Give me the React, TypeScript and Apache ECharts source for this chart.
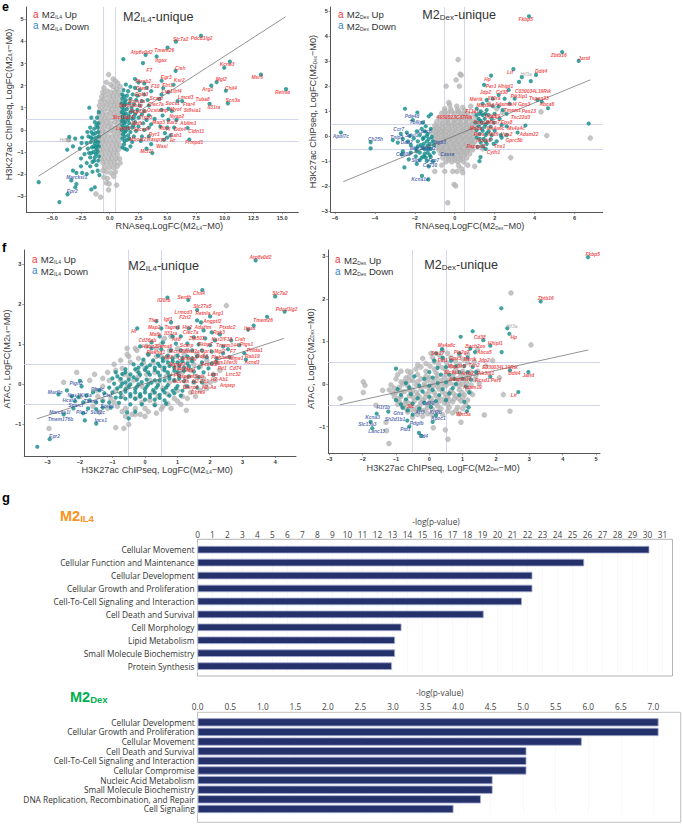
import React, { useEffect, useRef } from "react";
import * as echarts from "echarts";

type P = number[];
type L = [number, number, string];

const ticksE1X = [-5, -2.5, 0, 2.5, 5, 7.5, 10, 12.5, 15];
const ticksE1Y = [-3, -2, -1, 0, 1, 2, 3, 4, 5];
const ticksE2X = [-6, -4, -2, 0, 2, 4, 6];
const ticksE2Y = [-3, -2, -1, 0, 1, 2, 3, 4, 5];
const ticksF1X = [-3, -2, -1, 0, 1, 2, 3, 4];
const ticksF1Y = [-1, 0, 1, 2, 3];
const ticksF2X = [-3, -2, -1, 0, 1, 2, 3, 4, 5];
const ticksF2Y = [-1, 0, 1, 2, 3];

const fitE1: P[] = [[-6.2, -2.1], [15.3, 5.12]];
const fitE2: P[] = [[-5.58, -1.81], [6.78, 2.25]];
const fitF1: P[] = [[-3.32, -0.86], [4.27, 1.15]];
const fitF2: P[] = [[-2.68, -0.49], [4.77, 0.8]];

const grayE1: P[] = [
[-.1,2.5],[.3,2.3],[-.3,2.15],[.5,2.2],[.1,2.05],[.7,2.1],[-.5,1.9],[.3,1.95],[.6,1.85],[.9,1.95],
[-.6,1.7],[-.2,1.75],[.1,1.7],[.45,1.7],[.8,1.7],[-.7,1.5],[-.35,1.55],[0,1.5],[.3,1.5],[.65,1.5],[.95,1.55],
[-.8,1.3],[-.5,1.35],[-.15,1.3],[.2,1.3],[.5,1.3],[.85,1.3],[-.9,1.1],[-.55,1.1],[-.25,1.15],[.1,1.1],[.4,1.1],[.7,1.1],[1,1.1],
[-.85,.9],[-.5,.9],[-.15,.95],[.2,.9],[.55,.9],[.9,.9],[-.9,.7],[-.6,.7],[-.25,.7],[.05,.75],[.4,.7],[.75,.7],[1.05,.7],
[-.8,.5],[-.45,.5],[-.1,.5],[.25,.55],[.6,.5],[.95,.5],[-.9,.3],[-.6,.3],[-.25,.3],[.1,.3],[.45,.35],[.8,.3],
[-.85,.1],[-.5,.1],[-.15,.15],[.2,.1],[.55,.1],[.9,.1],[-.9,-.1],[-.6,-.1],[-.3,-.1],[.05,-.05],[.4,-.1],[.75,-.1],[1,-.1],
[-.85,-.3],[-.5,-.3],[-.15,-.3],[.2,-.3],[.55,-.3],[.9,-.3],[-.9,-.5],[-.6,-.5],[-.3,-.5],[.05,-.5],[.4,-.5],[.75,-.5],
[-.8,-.7],[-.45,-.7],[-.1,-.7],[.25,-.7],[.6,-.7],[.9,-.7],[-.85,-.9],[-.55,-.9],[-.2,-.9],[.1,-.9],[.45,-.9],[.75,-.9],
[-.7,-1.1],[-.35,-1.1],[0,-1.1],[.3,-1.1],[.65,-1.1],[-.75,-1.3],[-.45,-1.3],[-.1,-1.3],[.2,-1.3],[.55,-1.3],[.85,-1.3],
[-.6,-1.5],[-.25,-1.5],[.1,-1.5],[.45,-1.5],[-.45,-1.7],[-.05,-1.7],[.3,-1.7],[.65,-1.65],[-.3,-1.9],[.1,-1.95],[.5,-1.9],[-.5,-2.15],[-.2,-2.2],
[.35,-2.1],[-.3,-2.4],[.6,-2.5],[-.05,-2.45],[-1.2,-2.9],[-.8,-3.05],[-.1,-2.72],[-3.6,-.45],[-.6,-1.85],[.9,-1.5]
];
const tealE1: P[] = [
[7.93,4.26],[5.76,3.99],[5.03,3.72],[3.12,3.39],[4.08,3.32],[1.18,3.2],[2.89,3.02],[5.73,2.67],[10.45,3.09],[9.96,2.81],[13.15,2.5],[15.33,1.84],
[8.83,2],[9.3,2.16],[10.1,1.77],[10.28,1.2],[8.68,1.18],[6.92,-.44],[6.77,.08],[4.51,2.22],[5.55,2.04],[4.65,1.89],[-6.18,-2.37],[-4.38,-3.27],[-3.67,-2.92],[-3.34,-2.29],[-3.52,-.32],[-1.78,1],
[2.2,2.3],[1.4,2.05],[2.5,2.15],[3,2.1],[1.8,1.95],[2.2,1.9],[3.2,1.9],[1.2,1.8],[1.6,1.75],[2.6,1.8],[3.6,1.75],[1.1,1.6],[1.5,1.55],[2,1.6],[2.4,1.55],[3,1.6],[4.5,1.6],[5.1,1.7],
[1.1,1.4],[1.4,1.35],[1.8,1.4],[2.3,1.35],[2.8,1.3],[3.3,1.35],[4.3,1.4],[1.05,1.2],[1.35,1.15],[1.7,1.2],[2.1,1.15],[2.6,1.1],[3.4,1.1],[5.1,.95],[5.9,1.3],[6.3,1.3],
[1.1,1],[1.5,.95],[1.9,1],[2.4,.9],[3,.85],[4.5,.9],[5.4,.85],[1.05,.8],[1.4,.75],[1.8,.8],[2.2,.7],[2.8,.7],[3.4,.65],[4.6,.65],[1.1,.6],[1.5,.55],[1.95,.5],[2.5,.55],[3.2,.45],[3.9,.5],
[1.05,.4],[1.35,.35],[1.7,.3],[2.2,.35],[2.9,.3],[3.6,.25],[5.1,.45],[5.8,.45],[1.1,.2],[1.5,.15],[1.95,.1],[2.5,.15],[3.4,.1],[4.4,.15],[5,.1],[5.6,.1],
[1.05,0],[1.4,-.05],[1.8,-.1],[2.3,-.05],[3,0],[4.8,-.15],[5.3,-.25],[1.15,-.2],[1.6,-.25],[2.1,-.3],[2.8,-.3],[3.4,-.3],[4.7,-.45],[5,-.35],[1.1,-.4],[1.5,-.45],[1.95,-.55],[2.7,-.5],[3.6,-.65],[1.25,-.65],[1.8,-.75],[3.2,-.85],[1.5,-.9],[3.7,-1.05],
[1.25,1.5],[1.3,1.25],[1.25,1.1],[1.25,.9],[1.25,.7],[1.2,.5],[1.25,.3],[1.25,.1],[1.3,-.1],[1.3,-.3],[1.3,-.5],[1.1,-.8],[1.3,-.85],[1.65,.65],[1.6,.45],[1.6,.05],[1.7,-.4],[2.1,.55],[2,.85],[2.05,.2],
[-.95,.8],[-1.1,.55],[-1.3,.35],[-1,.3],[-1.6,.55],[-1.05,.1],[-1.35,.05],[-1.7,.1],[-1,-.1],[-1.25,-.15],[-1.6,-.1],[-1.95,-.1],[-.95,-.3],[-1.2,-.35],[-1.5,-.4],[-1.85,-.3],[-2.4,-.35],[-3,-.4],
[-1,-.55],[-1.3,-.6],[-1.65,-.55],[-2,-.6],[-2.45,-.6],[-3.2,-.75],[-3.7,-.9],[-.95,-.75],[-1.2,-.8],[-1.55,-.8],[-1.9,-.85],[-2.6,-.85],[-1.05,-1],[-1.4,-1],[-1.8,-1.05],[-2.2,-1.1],[-.95,-1.2],[-1.3,-1.25],[-1.7,-1.25],
[-2.5,-1.3],[-1,-1.4],[-1.5,-1.45],[-2,-1.5],[-1.15,-1.6],[-1.7,-1.65],[-2.5,-1.65],[-3.2,-1.85],[-1.05,-1.85],[-1.5,-1.9],[-2.4,-1.95],[-2.9,-1.95],[-2,-2],[-.9,-2.05],[-2.9,-2.45],[-3,-2.6],[-1.3,-2.6],[-1.6,-2.7],
[-1.15,.2],[-1.2,-.5],[-1.1,-.7],[-1.15,-.9],[-1.2,-1.1],[-1.35,-1.4],[-1.45,-.2],[-1.4,-.75],[-1.65,-.35],[-1.6,-1.05]
];
const upE1: L[] = [
[6.17,4.11,"Slc7a2"],[8,4.13,"Pdcd1lg2"],[2.77,3.51,"Atp6v0d2"],[4.74,3.57,"Tmem26"],[4.45,3.15,"Itgax"],[6.13,2.79,"Cish"],[3.44,2.67,"F7"],[10.2,2.97,"Kcne3"],[4.92,2.35,"Egr3"],[6.05,2.23,"Ksr2"],[2.92,2.19,"Plexb2"],[9.7,2.28,"Mgl2"],[12.83,2.37,"Msr3"],[10.54,1.89,"Chil4"],[8.51,1.84,"Arg1"],[15.03,1.69,"Retnla"],[2.86,1.89,"Dtec1"],[3.96,1.96,"F10"],[5.03,1.99,"Flrt1"],[5.38,1.74,"Lsp1/Irf4"],[2.77,1.62,"Egln3"],[6.6,1.47,"Lmcd3"],[8.08,1.36,"Tuba8"],[10.69,1.33,"Scn3a"],[4.05,1.41,"Scarp"],[2.34,1.3,"Socs2a"],[5.47,1.2,"Socs1"],[6.89,1.14,"Ftar4"],[9.06,1.03,"Il31ra"],[4.02,1.14,"Clec7a"],[1.84,1.08,"Serpinb1g"],[7.18,.87,"St8sia1"],[5.73,.9,"Myof"],[4.16,.87,"Ocstamp"],[2.48,.81,"Rcg1ab"],[5.84,.6,"Nyap2"],[1.18,.57,"Slc19a14"],[3.12,.55,"Trpp3"],[2.36,.28,"Mafb"],[4.25,.32,"Map3"],[5.44,.32,"Ear2"],[6.83,.28,"Abllm1"],[1.18,.07,"Lipar6"],[2.74,.02,"Sacs4f"],[4.8,.05,"Rbpj"],[6.1,.01,"Ddx4"],[7.52,-.08,"Cldn11"],[3.87,-.22,"Ryr1"],[5.73,-.26,"Cah1"],[2.45,-.44,"Mboat2"],[4.1,-.46,"Rasgrp1"],[5.47,-.5,"Hr"],[7.35,-.58,"Frmpd1"],[4.54,-.76,"Wasl"],[3.2,-.97,"Mcf2l"]
];
const downE1: L[] = [[-2.88,-2.16,"Marcksl1"],[-3.26,-2.77,"Epr2"]];
const otherE1: L[] = [[-3.87,-.49,"Hif3a"]];

const grayE2: P[] = [
[.17,3.06],[.27,2.48],[.33,2.44],[.07,2.25],[-.43,2],[.23,2],[4.61,.03],[6.79,-.07],[4.32,.98],[2.8,-.85],[-.35,-2.65],[-.03,-1.92],[.05,-1.98],[-1,-1.4],[-.5,-1.4],[-.1,-1.4],[.12,-1.4],[.35,-1.3],[.4,-1.45],[1,-1.2],
[-.3,1.35],[-.25,1.25],[.1,1.2],[.4,1.15],[-.5,1.1],[-.2,1.08],[.15,1.05],[.5,1.02],[.8,1.2],
[-.65,.92],[-.35,.92],[0,.9],[.3,.9],[.65,.92],[.95,.9],[-.8,.75],[-.5,.76],[-.2,.74],[.1,.74],[.4,.75],[.75,.74],[1.05,.74],
[-.9,.58],[-.65,.6],[-.35,.58],[-.05,.58],[.25,.58],[.55,.58],[.85,.6],[-1,.42],[-.75,.42],[-.45,.42],[-.15,.42],[.15,.42],[.45,.42],[.75,.42],[1,.42],
[-1.05,.26],[-.8,.26],[-.55,.26],[-.25,.26],[.05,.26],[.35,.26],[.65,.26],[.9,.26],[-1.1,.1],[-.85,.1],[-.6,.1],[-.35,.1],[-.05,.1],[.25,.1],[.55,.1],[.85,.1],[1.05,.1],
[-1.1,-.06],[-.85,-.06],[-.55,-.06],[-.25,-.06],[.05,-.06],[.35,-.06],[.65,-.06],[.9,-.06],[-1,-.22],[-.75,-.22],[-.45,-.22],[-.15,-.22],[.15,-.22],[.45,-.22],[.75,-.22],[1,-.22],
[-.9,-.38],[-.65,-.38],[-.35,-.38],[-.05,-.38],[.25,-.38],[.55,-.38],[.85,-.38],[-.8,-.54],[-.55,-.54],[-.25,-.54],[.05,-.54],[.35,-.54],[.65,-.54],[.9,-.54],[-.7,-.7],[-.4,-.7],[-.1,-.7],[.2,-.7],[.5,-.7],[.75,-.7],
[-.6,-.86],[-.3,-.86],[0,-.86],[.3,-.86],[.6,-.86],[-.45,-1.02],[-.15,-1.02],[.15,-1.02],[.45,-1.02],[-.65,-1.15],[.2,-1.18],[.65,-1.15],[1.4,.9],[1.7,1.3],[2.1,1.1],[2.4,.95],[-1.3,-.4],[1.2,.6],[1.4,-.5],
[-.5,.98],[-.15,.98],[.2,.98],[.5,.85],[-.35,.66],[0,.66],[.3,.68],[.6,.68],[-.6,.5],[-.3,.5],[0,.5],[.3,.5],[.6,.5],[.9,.5],[-.9,.34],[-.6,.34],[-.3,.34],[0,.34],[.3,.34],[.6,.34],[.85,.34],[-.95,.18],[-.7,.18],[-.45,.18],[-.15,.18],[.15,.18],[.45,.18],[.75,.18],[-.95,.02],[-.7,.02],[-.45,.02],[-.15,.02],[.15,.02],[.45,.02],[.75,.02],[-.95,-.14],[-.65,-.14],[-.35,-.14],[-.05,-.14],[.25,-.14],[.55,-.14],[.85,-.14],[-.85,-.3],[-.55,-.3],[-.25,-.3],[.05,-.3],[.35,-.3],[.65,-.3],[.9,-.3],[-.75,-.46],[-.45,-.46],[-.15,-.46],[.15,-.46],[.45,-.46],[.75,-.46],[-.6,-.62],[-.3,-.62],[0,-.62],[.3,-.62],[.6,-.62],[-.45,-.78],[-.15,-.78],[.15,-.78],[.45,-.78],[-.3,-.94],[0,-.94],[.3,-.94]
];
const tealE2: P[] = [
[3.72,4.79],[5.38,3.36],[6.21,3.01],[2.94,2.68],[4.07,2.45],[3.81,2.2],[3.36,2.36],[3.22,2.17],[1.82,2.42],[1.47,2.05],[6.71,.51],[3.54,.43],[4.67,1.12],[4.36,1.38],[4.14,1.45],[-2.49,1.1],[-1.87,.95],[-1.19,.88],[-1.3,.8],[-4.21,-.23],[-4.21,-.48],[-2.52,-1.24],[-1.64,-1.58],[-1.32,-1.72],[1.24,-.99],[1.29,-.83],
[-5.7,.15],[-2.1,.65],[-1.6,.55],[-1.45,.4],[-1.65,.3],[-2.4,.15],[-1.9,.2],[-1.5,.2],[-1.2,.3],[-2.7,.1],[-2.25,.02],[-1.75,.05],[-1.35,.1],[-3.1,-.15],[-2.6,-.1],[-2.05,-.08],[-1.55,-.05],[-1.15,-.02],[-2.85,-.25],[-2.35,-.2],[-1.85,-.2],[-1.4,-.2],[-1.1,-.2],[-2.2,-.35],[-1.7,-.35],[-1.35,-.38],[-1.05,-.35],[-1.95,-.5],[-1.5,-.52],[-1.2,-.5],[-2.6,-.6],[-2.2,-.65],[-1.75,-.65],[-1.35,-.65],[-1.05,-.65],[-2.65,-.72],[-1.95,-.8],[-1.55,-.8],[-1.2,-.82],[-2.3,-.92],[-1.75,-.95],[-1.4,-.98],[-1.1,-1],[-1.9,-1.1],[-1.3,-1.2],
[-1.6,-.1],[-1.3,-.1],[-1.25,-.3],[-1.55,-.3],[-1.6,-.45],[-1.3,-.5],[-1.9,-.6],[-1.5,-.7],[-1.25,-.75],[-1.65,-.85],[-1.45,-.85],[-1.85,-.4],[-1.4,.02],
[1.1,1.1],[1.4,1.3],[1.6,1.45],[1.9,1.5],[2.5,1.5],[2.7,1.85],[2.2,1.65],[1.9,1.2],[2.2,1.2],[1.3,1],[1.6,1.05],[2.4,1.05],[2.75,1.3],[3,1.5],[1.1,.85],[1.4,.85],[1.7,.85],[2,.9],[2.6,.9],[1.2,.7],[1.5,.7],[1.85,.7],[2.25,.7],[1.05,.55],[1.35,.55],[1.65,.55],[1.95,.55],[2.35,.45],[1.2,.4],[1.5,.38],[1.8,.38],[2.6,.4],[1.1,.25],[1.4,.22],[1.7,.2],[2,.22],[1.25,.1],[1.55,.05],[1.85,.05],[2.3,.05],[3.15,.15],[1.1,-.05],[1.45,-.1],[1.8,-.12],[2.35,-.05],[2.6,.05],[1.3,-.25],[1.6,-.3],[1.95,-.3],[2.1,-.2],[1.15,-.42],[1.55,-.5],
[1.25,.9],[1.55,.9],[1.3,.62],[1.55,.48],[1.35,.3],[1.6,.12],[1.25,-.1],[1.55,-.2],[1.4,-.4]
];
const upE2: L[] = [
[3.56,4.65,"Fkbp5"],[5.21,3.24,"Zbtb16"],[6.48,3.1,"Jarid"],[2.77,2.54,"Lif"],[4.32,2.57,"Ddit4"],[1.64,2.28,"Hp"],[1.82,1.98,"Per1"],[2.55,2,"Hhipl1"],[2.37,1.73,"Cd38"],[3.92,1.8,"C030034L19Rik"],[1.54,1.73,"Jdp2"],[3.22,1.57,"Pik3ip1"],[4.21,1.5,"Tspan33"],[1.07,1.45,"Mertk"],[1.97,1.5,"Il10ra"],[2.55,1.26,"Adamtsl4"],[3.47,1.25,"Gpx3"],[4.61,1.25,"Abca6"],[1.54,1.24,"Map3k6"],[2.89,1.04,"Tmem1"],[3.71,1.01,"Pex13"],[.87,1.01,"F13a1"],[0,.77,"4930523C07Rik"],[1.8,.8,"Rgs1"],[2.05,.8,"Klf9"],[3.29,.77,"Tsc22d3"],[1.3,.55,"Foxo3"],[1.95,.55,"Map7"],[2.6,.55,"Eps8"],[3.07,.32,"Ms4a4c"],[2.05,.32,"Ms4a6c"],[1.07,.32,"Maoa"],[3.72,.07,"Adam22"],[1.22,.08,"Rara"],[1.94,.09,"Mdfi"],[2.6,.09,"Vps2"],[2.97,-.16,"Gprc5b"],[1.47,-.16,"Nucb2"],[2.24,-.39,"Tns1"],[1.07,-.41,"Rapgef1"],[1.94,-.63,"Cyth1"]
];
const downE2: L[] = [
[-2.14,.8,"Pde4d"],[-1.87,.56,"Tollip1"],[-2.8,.27,"Ccr7"],[-2.9,-.03,"Tnip3"],[-2.15,.05,"Sdsl1"],[-5.7,0,"Apol7c"],[-3.97,-.11,"Ch25h"],[-2.4,-.25,"Dab2"],[-1.5,.19,"Lpar6"],[-1.94,-.48,"Wdr1"],[-1.3,-.48,"Mgst2"],[-2.57,-.73,"Cd300"],[-.37,-.72,"Casse"],[-1.94,-.97,"Slpi"],[-1.07,-.95,"Acp7"],[-1.24,-1.17,"Ca730"],[-1.74,-1.72,"Kcna1e"],[-.73,-.25,"Itgb3"]
];
const otherE2: L[] = [[3.57,2.48,"Hif3a"]];

const grayF1: P[] = [
[2.5,1.97],[-2.95,-1.1],[-2.1,.3],[1.27,-.65],[-1.55,.25],[-2.5,.05],[-1.7,.1],[-.4,-.75],[-.5,-1],[-.9,-1.08],[-.65,-1.1],[.6,1.15],[.8,1.2],[-.55,.9],[-.3,.9],[-.5,.7],
[-1.5,-.15],[-1.3,-.05],[-1.1,.1],[-.9,.35],[-.7,.4],[-.45,.55],[-.2,.65],[.1,.75],[.35,.9],[.5,1],[-1.3,-.4],[-1.05,-.35],[-.85,-.55],[-.6,-.6],[-.3,-.6],[0,-.6],[.3,-.5],[.55,-.55],[.9,-.35],[1.15,-.3],[1.4,-.2],[1.7,-.15],[2,.05],
[-.9,-.15],[-.7,-.3],[-.55,-.05],[-.3,-.35],[-.1,-.45],[.15,-.4],[.4,-.3],[.7,-.25],[1,-.15],[1.25,-.05],[1.5,.05],[1.8,.15],[2.1,.25],[-.75,.1],[-.5,.2],[-.25,.35],[0,.4],[.25,.55],[.5,.7],[.75,.85],[1,.9],[1.3,.85],[1.6,.75],[1.9,.6],
[-.35,.1],[-.1,-.05],[.15,.1],[.4,.05],[.65,.2],[.9,.1],[1.15,.3],[1.4,.35],[1.7,.45],[-.2,.2],[.05,.25],[.3,.3],[.55,.4],[.85,.5],[1.1,.55],[1.35,.6],[-.6,-.8],[0,-.8],[.35,-.72],[.8,-.6],[1.1,-.5],[-1.6,-.55],[-.15,-.75],[-1.4,-.7],[1.9,-.1],[2.3,.35],[-2,-.3],
[-1.15,.3],[-.95,.5],[-.75,.6],[-.55,.75],[-.25,.85],[.05,.95],[-1.3,.15],[-.3,-.75],[.1,-.68],[.5,-.62],[.7,-.48],[1,-.42],[1.3,-.35],[1.55,-.3],[1.85,-.02],[2.15,.1],[1.55,.2],[1.25,.15],[-.7,-.68],[-.95,-.45],[-1.15,-.6],[-1.45,-.3],[-.05,.55],[.35,.7],[.65,.65],[.95,.7],[1.2,.75],[1.5,.5],[1.8,.7],[-.65,.25],[-.15,-.3],[.25,-.2],[.55,-.1],[.75,.05],[1.05,.35]
];
const tealF1: P[] = [
[3.4,3.1],[1.76,2.36],[.69,2.17],[1.33,2.11],[1.6,1.86],[4,2.2],[4.29,1.82],[3.75,1.69],[3.34,1.47],[3.17,1.37],[-.24,1.4],[-3.31,-1.56],[-2.93,-1.37],[-2,.09],[-2.66,-.25],[-1.95,-.05],
[.35,1.58],[.8,1.55],[1.6,1.6],[1.72,1.55],[2,1.7],[.5,1.4],[1,1.42],[1.35,1.4],[1.8,1.35],[2.05,1.3],[2.3,1.25],[.45,1.2],[.85,1.2],[1.1,1.2],[1.5,1.18],[1.85,1.15],[2.15,1.1],[2.65,1.1],[.2,1.05],[.55,1.05],[.95,1.02],[1.3,1.02],[1.65,1],[2,.98],[2.4,.95],[2.9,.98],[2.55,.88],
[-.15,.95],[.2,.9],[.5,.88],[.8,.85],[1.1,.85],[1.45,.85],[1.75,.85],[2.05,.82],[2.4,.78],[3.05,.78],[.1,.75],[.4,.72],[.7,.72],[1,.72],[1.3,.7],[1.6,.7],[1.9,.68],[2.2,.65],[2.6,.68],[3.1,.62],[-.05,.62],[.25,.6],[.55,.58],[.85,.58],[1.15,.58],[1.45,.58],[1.75,.55],[2.05,.52],[2.2,.55],
[-.35,.5],[-.1,.5],[.15,.48],[.45,.46],[.75,.46],[1.05,.46],[1.35,.45],[1.65,.42],[1.95,.4],[-.6,.38],[-.3,.38],[0,.36],[.3,.36],[.6,.35],[.9,.34],[1.2,.34],[1.5,.32],[1.8,.3],[2.1,.24],
[-.9,.3],[-.7,.26],[-.45,.25],[-.15,.24],[.15,.24],[.45,.22],[.75,.22],[1.05,.22],[1.35,.2],[1.65,.18],[-1,.15],[-.75,.14],[-.5,.12],[-.25,.12],[.05,.12],[.3,.1],[.6,.1],[.9,.1],[1.2,.08],[1.5,.06],[1.75,.05],
[-.95,.02],[-.7,.02],[-.45,0],[-.2,0],[.1,0],[.4,-.02],[.7,-.02],[1,-.04],[1.3,-.05],[1.6,-.08],[-1.1,-.08],[-.85,-.1],[-.6,-.12],[-.3,-.12],[0,-.12],[.25,-.14],[.55,-.14],[.85,-.16],[1.15,-.16],
[-1,-.2],[-.75,-.22],[-.45,-.24],[-.15,-.24],[.15,-.26],[.45,-.26],[.75,-.28],[1.1,-.28],[-.9,-.33],[-.6,-.36],[-.3,-.36],[0,-.38],[.3,-.38],[.6,-.4],[-.8,-.46],[-.45,-.5],[-.1,-.5],[.3,-.52],[.65,-.48],[-.55,-.7],[-.5,-.85],[-.3,-.68],
[-.6,.05],[-.35,.18],[-.1,.06],[.2,.04],[.45,.1],[.75,.15],[1.05,.15],[-.85,.2],[-.6,.3],[-.2,.3],[.1,.3],[.4,.3],[.7,.3],[1,.3],[.3,.42],[.6,.42],[.9,.42],[1.2,.42],[.4,.52],[.7,.55],[1,.55],[1.3,.52],[.55,.65],[.85,.65],[1.15,.66],[1.45,.65],[-.2,.42],[.05,.43],[-.75,-.05],[-.5,-.06],[-.25,-.06],[.05,-.06],[.35,-.08],[.65,-.08],[.95,-.1],[-.6,-.18],[-.3,-.2],[0,-.2],[.3,-.2],[.6,-.2],[.9,-.22],[-.75,-.32],[-.45,-.3],[-.15,-.3],[.15,-.32],[.45,-.34],
[-2.4,-.15],[-2.25,-.3],[-2.05,-.32],[-1.8,-.28],[-1.6,-.2],[-1.4,-.15],[-1.25,-.22],[-2.15,-.42],[-1.9,-.45],[-1.7,-.4],[-1.5,-.45],[-1.3,-.42],[-1.1,-.45],[-1.75,-.6],[-1.5,-.62],[-1.3,-.58],[-1.05,-.58],[-1.85,-.9],[-1.5,-.98],[-2.5,-.75],[-1.9,-.72],[-2.2,-.6]
];
const upF1: L[] = [
[3.55,3.17,"Atp6v0d2"],[1.66,2.28,"Chil4"],[1.21,2.18,"Serdh"],[4.15,2.27,"Slc7a2"],[4.35,1.88,"Pdcd1lg2"],[.58,2.11,"Il20rb"],[1.76,1.94,"Slc27a5"],[1.18,1.81,"Lrmcd3"],[1.78,1.78,"Retnla"],[2.24,1.78,"Arg1"],[1.23,1.67,"F2rl2"],[.26,1.61,"Tfec"],[.71,1.62,"Igf1"],[.28,1.43,"Map2"],[.84,1.43,"Tagm1"],[1.3,1.43,"Htr2"],[1.78,1.43,"Adaftm"],[2.07,1.58,"Angptl2"],[2.53,1.43,"Ptxdc2"],[3.63,1.61,"Tmem26"],[3.22,1.4,"Itgax"],[-.34,1.32,"Hr"],[.31,1.26,"Mafb"],[.79,1.28,"Il31ra"],[1.4,1.31,"Clec7a"],[2.27,1.3,"Rgk3"],[.07,1.1,"Cd36ab"],[.96,1.12,"Ak8"],[1.59,1.16,"Zfp503"],[2.36,1.13,"Ksr2/F10"],[2.92,1.13,"Cish"],[.14,.95,"Habp2"],[.59,.95,"Sema6"],[1.28,.97,"Scarp"],[1.86,.99,"Fkbp7"],[2.53,.97,"Tmem144"],[3.12,1,"Ptgs1"],[3.37,.86,"Phlda1"],[.33,.81,"Plekhg1"],[.96,.82,"Kcnj2"],[1.42,.83,"Mfsd2a"],[1.88,.83,"Gpr1"],[2.3,.83,"Mgl2"],[2.7,.83,"F7"],[3.3,.71,"Rab19"],[.72,.67,"Ab8"],[1.3,.65,"Camk1g"],[1.76,.7,"Dok3"],[2.32,.67,"Plekha2"],[2.81,.66,"Mme1"],[2.48,.54,"Rgs1/Ier3i"],[3.29,.54,"Acnd3"],[.99,.51,"Srgap3"],[1.97,.5,"Fcer2a"],[2.37,.39,"Pit1"],[2.78,.4,"Cd74"],[1.1,.39,"Fabp4"],[1.4,.35,"Maf"],[2.71,.26,"Lrrc32"],[.91,.25,"Lpl"],[1.25,.2,"Rapgef"],[1.67,.2,"Snb"],[2.09,.26,"Lum"],[1.1,.07,"Acvr2a"],[1.71,.08,"H2-Eb1"],[2.29,.12,"H2-Ab1"],[2.53,-.03,"Anpep"],[1.4,-.07,"Disrp4"],[1.97,-.08,"H2-Aa"],[1.63,-.2,"Dhrs9"]
];
const downF1: L[] = [
[-2.12,.02,"Pign2"],[-2.76,-.19,"Marflo"],[-2.2,-.28,"Nps1"],[-1.82,-.28,"Kif1a"],[-2.33,-.4,"Hcar3"],[-1.46,-.12,"Plxdc"],[-1.16,-.28,"Ctsl"],[-2.13,-.53,"Sparcl"],[-1.67,-.43,"Tbxas"],[-1.16,-.56,"Sorbs"],[-2.62,-.71,"Marcks1l"],[-1.94,-.69,"Plin2"],[-1.46,-.69,"Sult2c"],[-2.6,-.87,"Tmem176b"],[-1.36,-.89,"Ipcs1"],[-2.78,-1.29,"Epr2"]
];
const otherF1: L[] = [];

const grayF2: P[] = [
[2.45,2.14],[3.05,.92],[2.42,-.64],[2.22,-.25],[1.65,-.73],[.56,-1.3],[-1.21,-1.4],[-1.28,-1.1],[-1.98,.05],[-1.93,-.03],[-1.98,-.2],[-2.68,-.34],[.12,-1.03],[.48,-1.08],[-1.4,-.15],[-1.6,-.5],[-1.3,-.9],[1.9,.55],[1.7,.42],[2.1,.15],[1.45,.82],[.95,-.9],
[-.65,.3],[-.2,.6],[.05,.72],[.4,.78],[-.35,.45],[-.1,.48],[.15,.52],[.4,.58],[.65,.62],[.9,.68],[1.15,.7],
[-.85,.3],[-.6,.18],[-.35,.22],[-.1,.3],[.15,.35],[.4,.38],[.65,.42],[.9,.46],[1.15,.5],[1.35,.52],[-1,.12],[-.75,.05],[-.5,.08],[-.25,.12],[0,.15],[.25,.2],[.5,.22],[.75,.26],[1,.3],[1.25,.28],[1.45,.3],
[-1.15,-.02],[-.9,-.08],[-.65,-.04],[-.4,-.02],[-.15,0],[.1,.04],[.35,.08],[.6,.1],[.85,.12],[1.1,.12],[1.35,.1],[-1.2,-.14],[-1,-.2],[-.75,-.18],[-.5,-.14],[-.25,-.12],[0,-.1],[.25,-.06],[.5,-.04],[.75,-.02],[1,0],[1.25,-.02],[1.5,.02],
[-1.05,-.3],[-.85,-.3],[-.6,-.28],[-.35,-.26],[-.1,-.24],[.15,-.2],[.4,-.18],[.65,-.16],[.9,-.14],[1.15,-.14],[-.9,-.42],[-.7,-.4],[-.45,-.4],[-.2,-.38],[.05,-.34],[.3,-.32],[.55,-.3],[.8,-.28],[1.05,-.26],[1.3,-.25],
[-.8,-.54],[-.55,-.52],[-.3,-.52],[-.05,-.5],[.2,-.46],[.45,-.44],[.7,-.42],[.95,-.4],[-.65,-.66],[-.4,-.64],[-.15,-.62],[.1,-.6],[.35,-.58],[.6,-.55],[.85,-.55],[1.1,-.5],[-.5,-.78],[-.2,-.76],[.1,-.74],[.4,-.72],[.7,-.68],[.9,-.7],
[-.95,.22],[-.7,.14],[-.4,.35],[-.1,.18],[.2,.27],[.5,.32],[.8,.36],[1.1,.22],[-1.05,-.1],[-.8,.0],[-.55,-.22],[-.3,-.3],[0,-.18],[.3,-.12],[.6,-.22],[.9,-.05],[-.95,-.35],[-.6,-.46],[-.25,-.44],[.1,-.42],[.45,-.36],[.75,-.35],[1,-.32],[-.7,-.58],[-.4,-.58],[-.05,-.56],[.25,-.52],[.55,-.48],[.1,.62],[.3,.68],[.55,.72],
[-.55,.28],[-.25,.4],[.02,.42],[.28,.45],[.52,.5],[.78,.54],[1.02,.58],[-.85,.05],[-.6,.08],[-.35,.05],[-.05,.08],[.2,.12],[.45,.14],[.7,.18],[.95,.2],[1.2,.18],[-1.1,-.22],[-.85,-.18],[-.6,-.14],[-.38,-.2],[-.12,-.05],[.12,-.04],[.38,0],[.62,.02],[.88,.04],[1.12,.04],[1.4,.2],[-.95,-.48],[-.75,-.48],[-.48,-.32],[-.12,-.32],[.2,-.28],[.48,-.24],[.72,-.22],[.98,-.2],[1.22,-.2],[-.55,-.6],[-.28,-.6],[0,-.44],[.3,-.4],[.6,-.38],[.88,-.34],[1.15,-.38],[-.35,-.72],[-.05,-.7],[.25,-.66],[.55,-.64],[.8,-.62],[1,-.58]
];
const tealF2: P[] = [
[4.76,2.98],[3.34,1.94],[2.16,1.78],[2.34,1.31],[2.4,1.18],[1.3,1.24],[.94,1.11],[1.62,1.03],[1.83,.9],[1.23,.83],[1.37,.75],[2.17,.75],[2.97,.28],[2.42,.32],[1.83,.17],[2.67,-.19],[1.13,-.64],[-1.58,-.7],[-1.76,-.89],[-1.71,-1.04],[-.31,-1.15],[-.23,-1.22],[-.6,-1],[-.66,-.86],[.1,-.89],[-1.23,-.65],
[-1,.36],[.38,.82],[.2,.72],[.15,.55],[.4,.62],[.65,.55],[.9,.72],[1.15,.62],[.8,.42],[1.05,.42],[1.3,.4],[.5,.4],[.25,.38],[0,.28],[1.4,.28],[1.15,.28],[.9,.28],[.6,.22],[.35,.22],[.1,.15],[-.15,.12],[-.45,.18],[-.7,.02],[.75,.12],[1,.12],[1.25,.1],
[-.95,-.12],[-.6,-.08],[-.3,-.04],[0,-.04],[.25,.02],[.5,.04],[.8,0],[-.85,-.26],[-.55,-.24],[-.2,-.18],[.1,-.14],[.4,-.12],[.7,-.1],[1.1,-.06],[-1,-.38],[-.7,-.36],[-.35,-.34],[0,-.3],[.3,-.26],[.6,-.22],[.9,-.26],[1.2,-.2],[-.85,-.48],[-.5,-.46],[-.15,-.44],[.2,-.4],[.5,-.38],[-.65,-.62],[-.3,-.58],[.05,-.54],[-.5,-.72],[.2,-.74],[-.8,-.56],[1.05,-.42],[1.18,-.55]
];
const upF2: L[] = [
[4.9,3.04,"Fkbp5"],[3.49,2,"Zbtb16"],[2.53,1.1,"Hp"],[1.51,1.09,"Cd38"],[1.98,.96,"Hhipl1"],[.52,.91,"Ms4a6c"],[1.38,.89,"Bach2os"],[.97,.75,"Pla2g7"],[1.65,.75,"Abca5"],[.25,.71,"Stk17"],[.78,.61,"Gpx3"],[1.22,.58,"Mertk"],[1.64,.56,"Jdp2"],[.4,.56,"Ext1"],[.82,.42,"Map3k5"],[1.34,.43,"Tcn2"],[2.12,.39,"E330034L19Rik"],[2.55,.25,"Ddit4"],[2.97,.2,"Jarid"],[.67,.27,"Slc9a3"],[1.14,.25,"Arrb2"],[1.69,.25,"Pik3ip1"],[.92,.11,"Adamtsl4"],[1.59,.09,"Rcsd1"],[2,.09,"Per1"],[1.29,-.09,"Adam19"],[2.53,-.27,"Lif"],[1.02,-.72,"Wnt5a"],[-.56,-.52,"Slc"]
];
const downF2: L[] = [
[-1.38,-.56,"H1f1b"],[-1.7,-.78,"Kcna3"],[-1.86,-.96,"Slc13a3"],[-1.58,-1.12,"Lanc13"],[-.93,-.7,"Gfra"],[-1.03,-.83,"Sh2d1b1"],[-.38,-.93,"Pdgfb"],[-.72,-1.07,"Pid1"],[-.18,-1.23,"Cd4"],[-.28,-.67,"Atf3"],[.19,-.67,"Kif2b"],[.27,-.82,"Apoc1"],[-.03,-.45,"Cd80"]
];
const otherF2: L[] = [[2.47,1.36,"Hif3a"]];

const catsIL4 = ["Cellular Movement","Cellular Function and Maintenance","Cellular Development","Cellular Growth and Proliferation","Cell-To-Cell Signaling and Interaction","Cell Death and Survival","Cell Morphology","Lipid Metabolism","Small Molecule Biochemistry","Protein Synthesis"];
const valsIL4 = [30.13, 25.78, 22.33, 22.33, 21.63, 19.08, 13.6, 13.17, 13.17, 12.96];
const ticksIL4 = [0,1,2,3,4,5,6,7,8,9,10,11,12,13,14,15,16,17,18,19,20,21,22,23,24,25,26,27,28,29,30,31];
const catsDex = ["Cellular Development","Cellular Growth and Proliferation","Cellular Movement","Cell Death and Survival","Cell-To-Cell Signaling and Interaction","Cellular Compromise","Nucleic Acid Metabolism","Small Molecule Biochemistry","DNA Replication, Recombination, and Repair","Cell Signaling"];
const valsDex = [7.08, 7.08, 5.9, 5.05, 5.05, 5.05, 4.53, 4.53, 4.35, 3.93];
const ticksDex = [0, .5, 1, 1.5, 2, 2.5, 3, 3.5, 4, 4.5, 5, 5.5, 6, 6.5, 7];

const SANS = "Liberation Sans";
const richName = {
  n: { fontFamily: SANS, fontSize: 9.2, color: "#3a3a3a", lineHeight: 11, verticalAlign: "bottom" },
  s: { fontFamily: SANS, fontSize: 4.5, color: "#3a3a3a", lineHeight: 9, verticalAlign: "bottom" },
};
const minus = (s: string) => s.replace("-", "−");

type Panel = {
  box: [number, number, number, number];
  xr: [number, number]; yr: [number, number];
  tx: number[]; ty: number[]; xDec: number;
  xName: string; yName: string; xShift: number; yShift: number; xGap: number; yGap: number;
  gray: P[]; teal: P[]; fit: P[]; up: L[]; down: L[]; other: L[];
  vl: number[]; hl: number[];
};

const panels: Panel[] = [
  { box: [26.5, 7, 298.3, 212], xr: [-7.24, 16.4], yr: [-3.72, 5.56], tx: ticksE1X, ty: ticksE1Y, xDec: 1,
    xName: "{n|RNAseq,LogFC(M2}{s|IL4}{n|−M0)}", yName: "{n|H3K27ac ChIPseq, LogFC(M2}{s|IL4}{n|−M0)}", xShift: 7, yShift: 5, xGap: 7, yGap: 7,
    gray: grayE1, teal: tealE1, fit: fitE1, up: upE1, down: downE1, other: otherE1, vl: [-.56, .48], hl: [.5, -.5] },
  { box: [330.7, 7, 602.7, 212], xr: [-6.21, 7.41], yr: [-3.02, 5.16], tx: ticksE2X, ty: ticksE2Y, xDec: 0,
    xName: "{n|RNAseq,LogFC(M2}{s|Dex}{n|−M0)}", yName: "{n|H3K27ac ChIPseq, LogFC(M2}{s|Dex}{n|−M0)}", xShift: 3, yShift: -2, xGap: 7, yGap: 7,
    gray: grayE2, teal: tealE2, fit: fitE2, up: upE2, down: downE2, other: otherE2, vl: [-.52, .5], hl: [.5, -.5] },
  { box: [24.3, 250, 296, 456], xr: [-3.71, 4.64], yr: [-1.79, 3.36], tx: ticksF1X, ty: ticksF1Y, xDec: 0,
    xName: "{n|H3K27ac ChIPseq, LogFC(M2}{s|IL4}{n|−M0)}", yName: "{n|ATAC, LogFC(M2}{s|IL4}{n|−M0)}", xShift: -3, yShift: -6, xGap: 6, yGap: 9,
    gray: grayF1, teal: tealF1, fit: fitF1, up: upF1, down: downF1, other: otherF1, vl: [-.5, .5], hl: [.5, -.5] },
  { box: [328.3, 250, 600, 453.3], xr: [-3.03, 5.12], yr: [-1.63, 3.15], tx: ticksF2X, ty: ticksF2Y, xDec: 0,
    xName: "{n|H3K27ac ChIPseq, LogFC(M2}{s|Dex}{n|−M0)}", yName: "{n|ATAC, LogFC(M2}{s|Dex}{n|−M0)}", xShift: -21, yShift: -7, xGap: 7, yGap: 8,
    gray: grayF2, teal: tealF2, fit: fitF2, up: upF2, down: downF2, other: otherF2, vl: [-.5, .5], hl: [.5, -.5] },
];

const W = 682, H = 839;

function shiftPad(d: number) {
  return d >= 0 ? [0, 0, 0, 2 * d] : [0, -2 * d, 0, 0];
}

function buildOption() {
  const grid: any[] = [], xAxis: any[] = [], yAxis: any[] = [], series: any[] = [];
  const axisBase = {
    axisLine: { show: true, onZero: false, lineStyle: { color: "#555", width: 1 } },
    axisTick: { show: true, length: 2, lineStyle: { color: "#555", width: .6 } },
    splitLine: { show: false },
  };
  panels.forEach((p, i) => {
    grid.push({ left: p.box[0], top: p.box[1], width: p.box[2] - p.box[0], height: p.box[3] - p.box[1] });
    xAxis.push({
      type: "value", gridIndex: i, min: p.xr[0], max: p.xr[1], ...axisBase,
      axisTick: { ...axisBase.axisTick, customValues: p.tx },
      axisLabel: { customValues: p.tx, margin: 3, fontFamily: SANS, fontWeight: "bold", fontSize: 5.5, color: "#333", formatter: (v: number) => minus(v.toFixed(p.xDec)) },
      name: p.xName, nameLocation: "middle", nameGap: p.xGap,
      nameTextStyle: { rich: richName, padding: shiftPad(p.xShift) },
    });
    yAxis.push({
      type: "value", gridIndex: i, min: p.yr[0], max: p.yr[1], ...axisBase,
      axisTick: { ...axisBase.axisTick, customValues: p.ty },
      axisLabel: { customValues: p.ty, margin: 3, fontFamily: SANS, fontWeight: "bold", fontSize: 5.5, color: "#333", formatter: (v: number) => minus(String(v)) },
      name: p.yName, nameLocation: "middle", nameGap: p.yGap,
      nameTextStyle: { rich: richName, padding: shiftPad(p.yShift) },
    });
    series.push({
      type: "scatter", xAxisIndex: i, yAxisIndex: i, data: p.gray, symbolSize: 5, silent: true, z: 2,
      itemStyle: { color: "#b7b7b7", borderColor: "#a4a4a4", borderWidth: .4 },
      markLine: {
        silent: true, symbol: "none", label: { show: false }, z: 1, precision: 4,
        lineStyle: { color: "#d2d6ec", width: 1, type: "solid" },
        data: [...p.vl.map((x) => ({ xAxis: x })), ...p.hl.map((y) => ({ yAxis: y }))],
      },
    });
    series.push({ type: "scatter", xAxisIndex: i, yAxisIndex: i, data: p.teal, symbolSize: 4.2, silent: true, z: 3, itemStyle: { color: "#108a8a" } });
    series.push({ type: "line", xAxisIndex: i, yAxisIndex: i, data: p.fit, symbol: "none", silent: true, z: 4, lineStyle: { color: "#666", width: .7 } });
    const labels = (data: L[], color: string, weight: string) => ({
      type: "scatter", xAxisIndex: i, yAxisIndex: i, data, symbolSize: 0, silent: true, z: 5,
      label: {
        show: true, position: "inside", color, fontSize: 4.9, fontFamily: SANS, fontStyle: "italic", fontWeight: weight,
        formatter: (q: any) => q.value[2],
      },
      labelLayout: { hideOverlap: false },
    });
    series.push(labels(p.up, "#ee1c25", "bold"));
    series.push(labels(p.down, "#2f4ba0", "bold"));
    series.push(labels(p.other, "#8a8a8a", "normal"));
  });

  const barAxes = (idx: number, cats: string[], vals: number[], ticks: number[], max: number, gridBox: [number, number, number, number], margin: number, barW: number, fmt: (v: number) => string) => {
    grid.push({ left: gridBox[0], top: gridBox[1], width: gridBox[2] - gridBox[0], height: gridBox[3] - gridBox[1] });
    xAxis.push({
      type: "value", gridIndex: idx, position: "top", min: 0, max,
      axisLine: { show: false }, axisTick: { show: false, customValues: ticks },
      splitLine: { show: true, lineStyle: { color: "#f3f3f3", width: .6 } },
      axisLabel: { customValues: ticks, margin, fontFamily: "Open Sans", fontSize: 8.3, color: "#444", formatter: fmt },
    });
    yAxis.push({
      type: "category", gridIndex: idx, data: cats, inverse: true,
      axisLine: { show: false }, axisTick: { show: false },
      axisLabel: { margin: 3, fontFamily: "Open Sans", fontSize: 8.3, color: "#333", interval: 0 },
    });
    series.push({
      type: "bar", xAxisIndex: idx, yAxisIndex: idx, data: vals, barWidth: barW, silent: true,
      itemStyle: { color: "#25316b", borderColor: "#a3acd0", borderWidth: .8 },
    });
  };
  barAxes(4, catsIL4, valsIL4, ticksIL4, 31.67, [197.5, 543.2, 672.5, 672.6], 5, 7.5, (v) => String(v));
  barAxes(5, catsDex, valsDex, ticksDex, 7.42, [197.7, 717.5, 680.7, 813.8], 7.5, 8.2, (v) => v.toFixed(1));

  const txt = (x: number, y: number, text: string, rich: any) => ({
    type: "text", x, y, z: 10, silent: true,
    style: { text, rich, verticalAlign: "middle", align: "left" },
  });
  const legendRich = {
    n: { fontFamily: SANS, fontSize: 9.6, fill: "#333", lineHeight: 11, verticalAlign: "bottom" },
    s: { fontFamily: SANS, fontSize: 5, fill: "#333", lineHeight: 9, verticalAlign: "bottom" },
  };
  const uniqRich = {
    n: { fontFamily: SANS, fontSize: 12.6, fill: "#333", lineHeight: 14, verticalAlign: "bottom" },
    s: { fontFamily: SANS, fontSize: 8, fill: "#333", lineHeight: 11, verticalAlign: "bottom" },
  };
  const plain = (x: number, y: number, text: string, fontSize: number, color: string, fontWeight = "normal", fontFamily = SANS, align = "left") => ({
    type: "text", x, y, z: 10, silent: true,
    style: { text, fontSize, fill: color, fontWeight, fontFamily, verticalAlign: "middle", align },
  });
  const legend = (ax: number, tx: number, y1: number, y2: number, sub: string) => [
    plain(ax, y1, "a", 10, "#ee3a43"),
    txt(tx, y1, `{n|M2}{s|${sub}}{n| Up}`, legendRich),
    plain(ax, y2, "a", 10, "#3b86c8"),
    txt(tx, y2, `{n|M2}{s|${sub}}{n| Down}`, legendRich),
  ];
  const headRich = (c: string) => ({
    n: { fontFamily: SANS, fontSize: 14.5, fontWeight: "bold", fill: c, lineHeight: 16, verticalAlign: "bottom" },
    s: { fontFamily: SANS, fontSize: 9.5, fontWeight: "bold", fill: c, lineHeight: 12, verticalAlign: "bottom" },
  });
  const graphic = [
    plain(2, 6.5, "e", 12.5, "#000", "bold"),
    plain(2, 247, "f", 13, "#000", "bold"),
    plain(2, 497, "g", 13, "#000", "bold"),
    ...legend(33, 41.7, 14.3, 25.7, "IL4"),
    ...legend(338, 346.7, 14, 25.7, "Dex"),
    ...legend(32, 40.7, 259.3, 270.7, "IL4"),
    ...legend(335, 344, 259.7, 271, "Dex"),
    txt(123, 16.7, "{n|M2}{s|IL4}{n|-unique}", uniqRich),
    txt(422.3, 14, "{n|M2}{s|Dex}{n|-unique}", uniqRich),
    txt(128.3, 265, "{n|M2}{s|IL4}{n|-unique}", uniqRich),
    txt(424.3, 264.7, "{n|M2}{s|Dex}{n|-unique}", uniqRich),
    txt(60, 515, "{n|M2}{s|IL4}", headRich("#f7941d")),
    txt(70, 696, "{n|M2}{s|Dex}", headRich("#00b050")),
    plain(436, 521, "-log(p-value)", 8.3, "#444", "normal", "Open Sans", "center"),
    plain(439.8, 692.7, "-log(p-value)", 8.3, "#444", "normal", "Open Sans", "center"),
    { type: "rect", z: 0, silent: true, shape: { x: 197.5, y: 539.3, width: 475, height: 136.7 }, style: { fill: "none", stroke: "#b5b5b5", lineWidth: 1 } },
    { type: "rect", z: 0, silent: true, shape: { x: 197.5, y: 712.3, width: 483.2, height: 110 }, style: { fill: "none", stroke: "#c0c0c0", lineWidth: 1 } },
  ];
  return { animation: false, backgroundColor: "#fff", grid, xAxis, yAxis, series, graphic, tooltip: { show: false } };
}

export default function App() {
  const ref = useRef<HTMLDivElement>(null);
  useEffect(() => {
    const chart = echarts.init(ref.current!, undefined, { renderer: "svg" });
    chart.setOption(buildOption() as any);
    return () => chart.dispose();
  }, []);
  return <div ref={ref} style={{ position: "absolute", left: 0, top: 0, width: W, height: H }} />;
}
